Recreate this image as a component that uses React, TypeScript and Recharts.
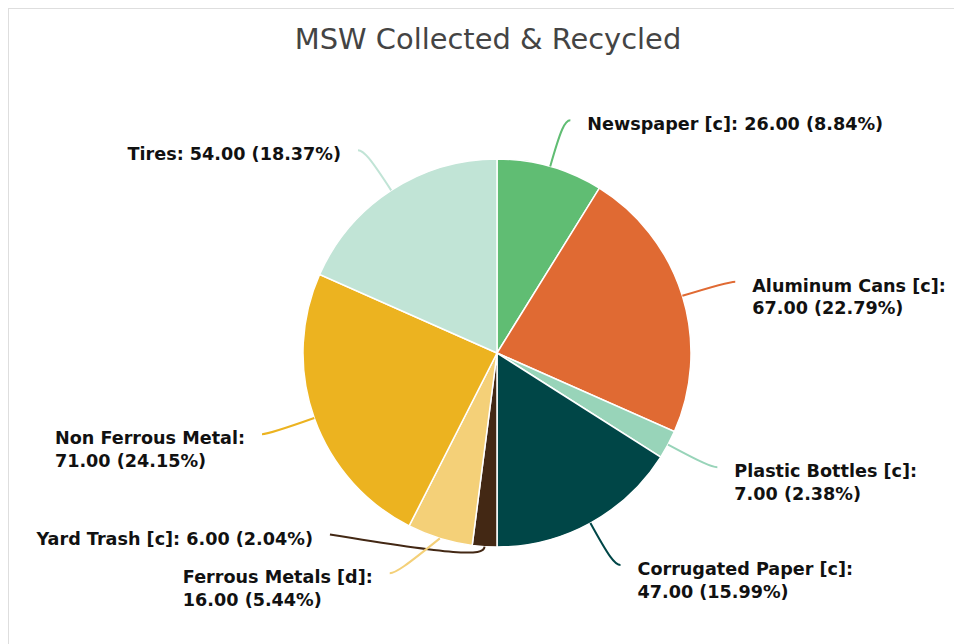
import React from 'react';
import { PieChart, Pie, Cell } from 'recharts';

const categories = [
    'Newspaper [c]',
    'Aluminum Cans [c]',
    'Plastic Bottles [c]',
    'Corrugated Paper [c]',
    'Yard Trash [c]',
    'Ferrous Metals [d]',
    'Non Ferrous Metal',
    'Tires',
];
const tons = [26, 67, 7, 47, 6, 16, 71, 54];
const sliceColors = ['#60bd73', '#e06a33', '#98d4b9', '#004647', '#432814', '#f4d078', '#ecb320', '#c1e4d6'];

// crowded labels are lifted (px) above their natural spot so they don't collide
const labelLift: Record<string, number> = {
    'Yard Trash [c]': 60,
    'Ferrous Metals [d]': 11,
};

const data = categories.map((name, i) => ({ name, value: tons[i] }));

const LABEL_SIZE = 17.6;
const LABEL_FONT = '"DejaVu Sans", Verdana, sans-serif';
const MAX_LABEL_WIDTH = 300;
const LINE_LEN = 48; // radial part of the leader line
const LINE_LEN2 = 7; // horizontal part
const LABEL_GAP = 17;

let measureCtx: CanvasRenderingContext2D | null = null;
function textWidth(s: string) {
    if (!measureCtx) measureCtx = document.createElement('canvas').getContext('2d');
    if (measureCtx) {
        measureCtx.font = `bold ${LABEL_SIZE}px ${LABEL_FONT}`;
        return measureCtx.measureText(s).width;
    }
    return s.length * 10.6;
}

// t = clockwise degrees from 12 o'clock
function polar(cx: number, cy: number, r: number, t: number) {
    const a = (t * Math.PI) / 180;
    return { x: cx + r * Math.sin(a), y: cy - r * Math.cos(a) };
}

function renderLabel(props: any) {
    const { cx, cy, midAngle, outerRadius, name, value, percent, index } = props;
    const t = 90 - midAngle;
    const rad = (t * Math.PI) / 180;
    const dir = { x: Math.sin(rad), y: -Math.cos(rad) };
    const R = outerRadius + LINE_LEN;
    const p0 = polar(cx, cy, outerRadius, t);
    let p1 = polar(cx, cy, R, t);
    const right = p1.x > cx;
    const lift = labelLift[name] ?? 0;
    const ly = p1.y - lift;
    if (lift) {
        const dy = ly - cy;
        const dx = Math.sqrt(Math.max(R * R - dy * dy, 0));
        p1 = { x: right ? cx + dx : cx - dx, y: ly };
        // keep the first segment from leaving the slice at too flat an angle
        const vx = p1.x - p0.x;
        const vy = p1.y - p0.y;
        const cos = (vx * dir.x + vy * dir.y) / Math.hypot(vx, vy);
        if (cos < Math.cos((80 * Math.PI) / 180)) {
            p1 = { x: p0.x + dir.x * 13, y: p0.y + dir.y * 13 };
        }
    }
    const p2 = {
        x: (lift ? (right ? cx + Math.sqrt(R * R - (ly - cy) ** 2) : cx - Math.sqrt(R * R - (ly - cy) ** 2)) : p1.x) +
            (right ? LINE_LEN2 : -LINE_LEN2),
        y: ly,
    };
    const k = 0.8;
    const c1 = { x: p0.x + (p1.x - p0.x) * k, y: p0.y + (p1.y - p0.y) * k };
    const c2 = { x: p2.x + (p1.x - p2.x) * k, y: p2.y + (p1.y - p2.y) * k };

    const head = `${name}:`;
    const tail = `${Number(value).toFixed(2)} (${(percent * 100).toFixed(2)}%)`;
    const full = `${head} ${tail}`;
    const lines = textWidth(full) > MAX_LABEL_WIDTH ? [head, tail] : [full];
    const blockW = Math.max(...lines.map(textWidth));
    const tx = right ? p2.x + LABEL_GAP : p2.x - LABEL_GAP - blockW;

    return (
        <g key={`lbl-${index}`}>
            <path
                d={`M${p0.x},${p0.y} C${c1.x},${c1.y} ${c2.x},${c2.y} ${p2.x},${p2.y}`}
                fill="none"
                stroke={sliceColors[index]}
                strokeWidth={2}
            />
            <text
                x={tx}
                y={p2.y + 4}
                textAnchor="start"
                dominantBaseline="central"
                fill="#111"
                fontFamily={LABEL_FONT}
                fontSize={LABEL_SIZE}
                fontWeight="bold"
            >
                {lines.map((l, i) => (
                    <tspan key={i} x={tx} dy={i === 0 ? 0 : 22.5}>
                        {l}
                    </tspan>
                ))}
            </text>
        </g>
    );
}

export default function App() {
    return (
        <div
            style={{
                position: 'relative',
                width: 960,
                height: 640,
                boxSizing: 'border-box',
                border: '1px solid #dedede',
                background: '#fff',
            }}
        >
            <div
                style={{
                    position: 'absolute',
                    left: 0,
                    right: 0,
                    top: 13,
                    textAlign: 'center',
                    fontFamily: '"DejaVu Sans", sans-serif',
                    fontSize: 28.9,
                    lineHeight: '34px',
                    color: '#444',
                }}
            >
                MSW Collected &amp; Recycled
            </div>
            <PieChart width={958} height={638}>
                <Pie
                    data={data}
                    dataKey="value"
                    nameKey="name"
                    cx={483}
                    cy={339}
                    outerRadius={194}
                    startAngle={90}
                    endAngle={-270}
                    stroke="#fff"
                    strokeWidth={1.5}
                    label={renderLabel}
                    labelLine={false}
                    isAnimationActive={false}
                >
                    {data.map((d, i) => (
                        <Cell key={d.name} fill={sliceColors[i]} />
                    ))}
                </Pie>
            </PieChart>
        </div>
    );
}
